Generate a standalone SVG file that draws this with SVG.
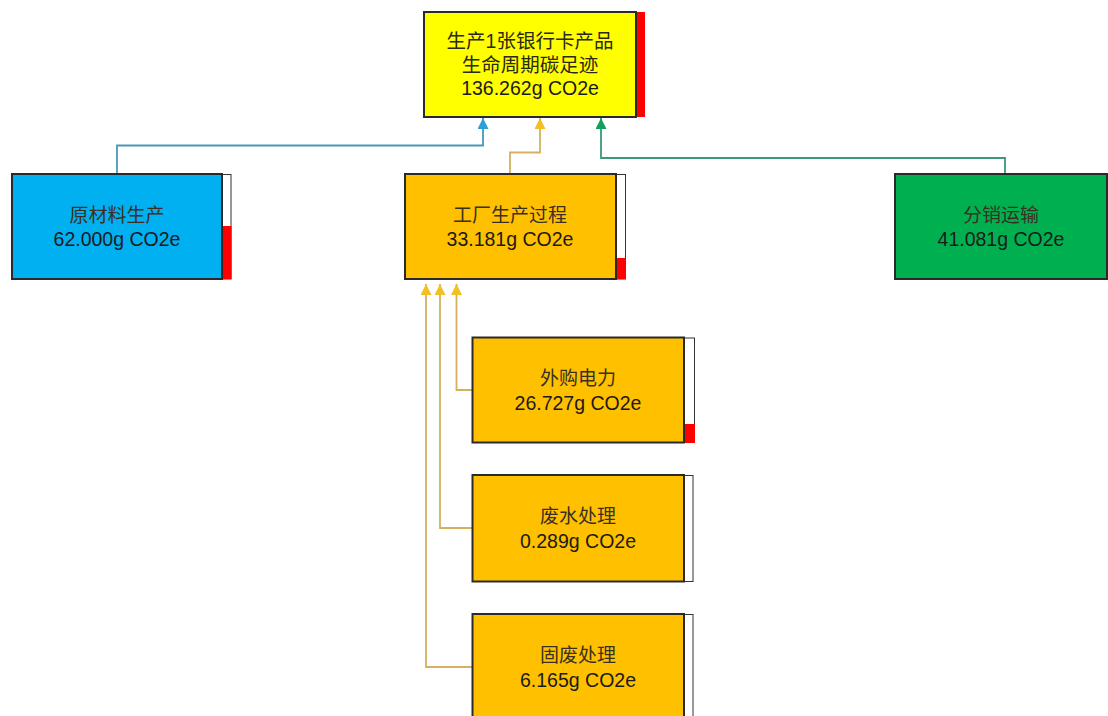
<svg xmlns="http://www.w3.org/2000/svg" width="1108" height="716" viewBox="0 0 1108 716">
<style>
.box{stroke:#2a2a2a;stroke-width:2}
.bar{fill:#fff;stroke:#333;stroke-width:1}
.red{fill:#ff0000;stroke:none}
.zh{font-family:"Liberation Sans","Noto Sans CJK SC",sans-serif;font-size:19px;fill:#3a3020;text-anchor:middle}
.zt{font-family:"Liberation Sans","Noto Sans CJK SC",sans-serif;font-size:19.5px;fill:#2a2a10;text-anchor:middle}
.num{font-family:"Liberation Sans","Noto Sans CJK SC",sans-serif;font-size:19.5px;fill:#1a1a1a;text-anchor:middle}
.c{fill:none;stroke-width:1.8}
</style>
<defs>
<marker id="aB" viewBox="0 0 10 10" refX="10" refY="5" markerWidth="11" markerHeight="11" markerUnits="userSpaceOnUse" orient="auto"><path d="M0,0 L10,5 L0,10 Z" fill="#28a0d8"/></marker>
<marker id="aG" viewBox="0 0 10 10" refX="10" refY="5" markerWidth="11" markerHeight="11" markerUnits="userSpaceOnUse" orient="auto"><path d="M0,0 L10,5 L0,10 Z" fill="#f2c020"/></marker>
<marker id="aN" viewBox="0 0 10 10" refX="10" refY="5" markerWidth="11" markerHeight="11" markerUnits="userSpaceOnUse" orient="auto"><path d="M0,0 L10,5 L0,10 Z" fill="#10a060"/></marker>
</defs>
<rect width="1108" height="716" fill="#fff"/>
<g id="connectors">
<path class="c" stroke="#4a98b8" d="M117,174 V145.5 H483 V118" marker-end="url(#aB)"/>
<path class="c" stroke="#d4b060" d="M510,174 V152.5 H540 V118" marker-end="url(#aG)"/>
<path class="c" stroke="#3a9a74" d="M1005,174 V158 H601 V118" marker-end="url(#aN)"/>
<path class="c" stroke="#d4b060" d="M472,390 H456.5 V284" marker-end="url(#aG)"/>
<path class="c" stroke="#d4b060" d="M472,528 H440 V284" marker-end="url(#aG)"/>
<path class="c" stroke="#d4b060" d="M472,667 H426 V284" marker-end="url(#aG)"/>
</g>
<g id="n-total">
<rect class="red" x="636" y="12" width="9" height="105"/>
<rect class="box" x="424" y="12" width="212" height="105" fill="#ffff00"/>
<text class="zt" x="530" y="48">生产1张银行卡产品</text>
<text class="zt" x="530" y="72">生命周期碳足迹</text>
<text class="num" x="530" y="95">136.262g CO2e</text>
</g>
<g id="n-raw">
<rect class="bar" x="222" y="174.5" width="9" height="104.5"/>
<rect class="red" x="222" y="226" width="9.5" height="53"/>
<rect class="box" x="12" y="174" width="210" height="105" fill="#00b0f0"/>
<text class="zh" x="117" y="222">原材料生产</text>
<text class="num" x="117" y="246">62.000g CO2e</text>
</g>
<g id="n-factory">
<rect class="bar" x="616" y="174.5" width="9.5" height="104.5"/>
<rect class="red" x="616" y="258" width="10" height="21"/>
<rect class="box" x="405" y="174" width="211" height="105" fill="#ffc000"/>
<text class="zh" x="510" y="222">工厂生产过程</text>
<text class="num" x="510" y="246">33.181g CO2e</text>
</g>
<g id="n-dist">
<rect class="box" x="895" y="174" width="212" height="105" fill="#00b050"/>
<text class="zh" x="1001" y="222">分销运输</text>
<text class="num" x="1001" y="246">41.081g CO2e</text>
</g>
<g id="n-power">
<rect class="bar" x="684" y="338" width="10.5" height="104.5"/>
<rect class="red" x="684" y="424" width="11" height="19"/>
<rect class="box" x="472.5" y="337.5" width="211.5" height="105" fill="#ffc000"/>
<text class="zh" x="578" y="385">外购电力</text>
<text class="num" x="578" y="410">26.727g CO2e</text>
</g>
<g id="n-water">
<rect class="bar" x="684" y="475.5" width="9" height="106"/>
<rect class="box" x="472.5" y="475" width="211.5" height="106.5" fill="#ffc000"/>
<text class="zh" x="578" y="523">废水处理</text>
<text class="num" x="578" y="548">0.289g CO2e</text>
</g>
<g id="n-solid">
<rect class="bar" x="684" y="614.5" width="9" height="106"/>
<rect class="box" x="472.5" y="614" width="211.5" height="106" fill="#ffc000"/>
<text class="zh" x="578" y="662">固废处理</text>
<text class="num" x="578" y="687">6.165g CO2e</text>
</g>
</svg>
